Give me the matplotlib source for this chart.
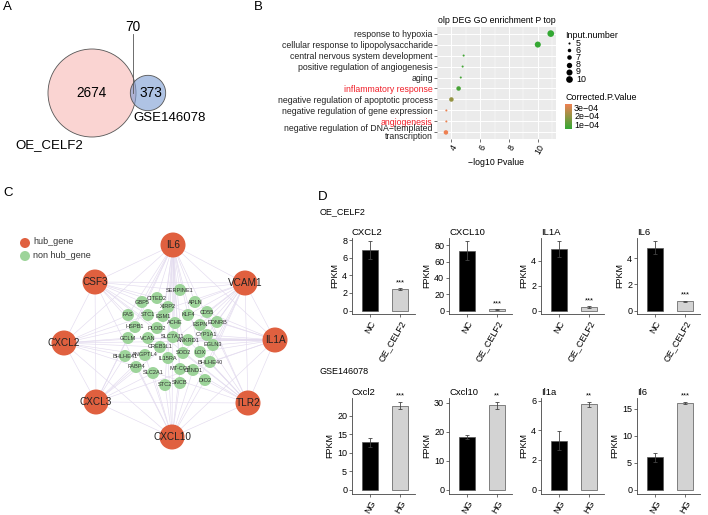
import numpy as np
import matplotlib
matplotlib.use("Agg")
import matplotlib.pyplot as plt
from matplotlib.patches import Circle
from matplotlib.colors import LinearSegmentedColormap, Normalize
from matplotlib.cm import ScalarMappable
from matplotlib.ticker import MultipleLocator

plt.rcParams['font.family'] = ['Liberation Sans', 'DejaVu Sans']
W, H = 708, 515

# ---------------- data ----------------
# A: venn
venn_names = ["OE_CELF2", "GSE146078"]
venn_only = [2674, 373]
venn_both = 70

# B: GO enrichment (top -> bottom)
go_terms = ["response to hypoxia", "cellular response to lipopolysaccharide",
            "central nervous system development", "positive regulation of angiogenesis",
            "aging", "inflammatory response", "negative regulation of apoptotic process",
            "negative regulation of gene expression", "angiogenesis",
            "negative regulation of DNA\u2212templated\ntranscription"]
go_logp = [10.9, 10.0, 4.85, 4.78, 4.65, 4.5, 4.0, 3.65, 3.65, 3.62]
go_count = [10, 9, 5, 5, 5, 7, 7, 5, 5, 7]
go_padj = [4.6e-5, 5.0e-5, 7.0e-5, 7.0e-5, 7.5e-5, 8.0e-5, 2.0e-4, 3.3e-4, 3.3e-4, 3.4e-4]
go_red = ["inflammatory response", "angiogenesis"]

# C: PPI network
hub_genes = ["IL6", "VCAM1", "IL1A", "TLR2", "CXCL10", "CXCL3", "CXCL2", "CSF3"]
hub_pos = [(173, 245), (245, 283), (275, 340), (248, 403), (172, 437), (96, 402), (64, 343), (95, 282)]
other_genes = ["SERPINE1", "CITED2", "GBP5", "APLN", "XIRP2", "CD55", "FAS", "STC1", "ESM1",
               "KLF4", "ACHE", "EDNRB", "ESPN", "HSPB1", "PLOD2", "CYP1A1", "SLC7A11", "GCLM",
               "VCAN", "ANKRD1", "EGLN3", "CREB3L1", "SOD2", "LOX", "BHLHE41", "ANGPTL4",
               "IL15RA", "BHLHE40", "FABP4", "MT-CO3", "CEND1", "SLC2A1", "DIO2", "STC2", "SNCB"]
other_pos = [(180, 290), (157, 298), (142, 302), (195, 302), (168, 307), (207, 312), (128, 315),
             (148, 315), (163, 316), (188, 315), (175, 323), (217, 322), (200, 325), (135, 327),
             (157, 328), (207, 335), (173, 337), (128, 338), (148, 338), (188, 340), (213, 345),
             (160, 347), (183, 353), (200, 352), (125, 356), (145, 355), (168, 358), (210, 362),
             (136, 367), (180, 369), (193, 370), (153, 373), (205, 380), (165, 385), (180, 383)]
hub_links = {
    "IL6": ["SERPINE1", "CITED2", "XIRP2", "ESM1", "ACHE", "SLC7A11", "CREB3L1", "IL15RA",
            "MT-CO3", "STC2", "SNCB", "SOD2", "APLN", "KLF4", "GBP5", "FAS", "HSPB1", "LOX"],
    "VCAM1": ["SERPINE1", "APLN", "CD55", "KLF4", "EDNRB", "ESPN", "CYP1A1", "EGLN3", "BHLHE40", "SOD2"],
    "IL1A": ["CD55", "EDNRB", "CYP1A1", "EGLN3", "ANKRD1", "LOX", "BHLHE40", "SLC7A11", "VCAN", "GCLM"],
    "TLR2": ["LOX", "BHLHE40", "DIO2", "CEND1", "SOD2", "ANKRD1", "KLF4", "CD55"],
    "CXCL10": ["STC2", "SNCB", "MT-CO3", "IL15RA", "SLC2A1", "DIO2", "CEND1", "FABP4", "ANGPTL4"],
    "CXCL3": ["BHLHE41", "FABP4", "SLC2A1", "ANGPTL4", "GCLM"],
    "CXCL2": ["GCLM", "VCAN", "BHLHE41", "FAS", "HSPB1", "ANGPTL4", "CREB3L1"],
    "CSF3": ["GBP5", "FAS", "CITED2", "STC1", "HSPB1", "PLOD2", "SERPINE1"],
}

# D: FPKM bar charts
top_genes = ["CXCL2", "CXCL10", "IL1A", "IL6"]
top_groups = ["NC", "OE_CELF2"]
top_mean = [[6.9, 2.45], [73.5, 1.4], [4.95, 0.3], [4.8, 0.7]]
top_err = [[1.0, 0.1], [11.5, 0.3], [0.65, 0.06], [0.5, 0.05]]
top_sig = ["***", "***", "***", "***"]
top_ystep = [2, 20, 2, 2]
bot_genes = ["Cxcl2", "Cxcl10", "Il1a", "Il6"]
bot_groups = ["NG", "HG"]
bot_mean = [[12.8, 22.8], [18.2, 29.0], [3.3, 5.75], [6.0, 16.1]]
bot_err = [[1.2, 1.0], [0.6, 1.2], [0.65, 0.17], [0.8, 0.15]]
bot_sig = ["***", "**", "**", "***"]
bot_ystep = [5, 10, 2, 5]

# ---------------- figure ----------------
fig = plt.figure(figsize=(W / 100, H / 100), dpi=100)
ov = fig.add_axes([0, 0, 1, 1])
ov.set_xlim(0, W); ov.set_ylim(H, 0); ov.axis("off")

def px_axes(x0, y0, x1, y1):
    return fig.add_axes([x0 / W, 1 - y1 / H, (x1 - x0) / W, (y1 - y0) / H])

for lab, (x, y) in zip("ABCD", [(3, 7), (254, 7), (3, 193), (318, 197)]):
    ov.text(x, y, lab, fontsize=9.5, va="center", ha="left")

# ---- A ----
k = 0.84
r1 = k * np.sqrt(venn_only[0] + venn_both)
r2 = k * np.sqrt(venn_only[1] + venn_both)
c1 = (92, 93); c2 = (c1[0] + 56, 93)
ov.add_patch(Circle(c1, r1, fc="#FAD4D2", ec="#555555", lw=0.6))
ov.add_patch(Circle(c2, r2, fc="#7B9BD2", alpha=0.6, ec="none"))
ov.add_patch(Circle(c2, r2, fc="none", ec="#555555", lw=0.6))
ov.text((c1[0] - r1 + c2[0] - r2) / 2 + 2, c1[1], str(venn_only[0]), fontsize=9.8, ha="center", va="center")
ov.text((c1[0] + r1 + c2[0] + r2) / 2, c2[1], str(venn_only[1]), fontsize=9.8, ha="center", va="center")
xo = (c2[0] - r2 + c1[0] + r1) / 2
ov.plot([xo, xo], [34, c1[1]], color="#555555", lw=0.6)
ov.text(xo, 27, str(venn_both), fontsize=9.8, ha="center", va="center")
ov.text(133, 118, venn_names[1], fontsize=9.5, ha="left", va="center")
ov.text(15, 145, venn_names[0], fontsize=9.5, ha="left", va="center")

# ---- B ----
axb = px_axes(437, 27, 556, 139)
cmap = LinearSegmentedColormap.from_list("gp", ["#33A833", "#EE8052"])
norm = Normalize(min(go_padj), max(go_padj))
def dot_size(n):
    return 2.2 + (np.asarray(n) - 5) / 5 * 21
ypos = np.arange(len(go_terms))[::-1] + 1
axb.set_facecolor("#EBEBEB")
axb.scatter(go_logp, ypos, s=dot_size(go_count), c=go_padj, cmap=cmap, norm=norm, zorder=3, lw=0)
axb.margins(x=0.05)
axb.set_ylim(0.4, len(go_terms) + 0.6)
axb.set_xticks([4, 6, 8, 10])
axb.set_xticks([3, 5, 7, 9, 11], minor=True)
axb.set_yticks(ypos)
axb.set_yticklabels(go_terms, fontsize=6.3, linespacing=0.78)
for t in axb.get_yticklabels():
    t.set_color("#F0202A" if t.get_text() in go_red else "#222222")
axb.grid(which="major", color="white", lw=0.7)
axb.grid(which="minor", axis="x", color="white", lw=0.35)
for s in axb.spines.values():
    s.set_visible(False)
axb.tick_params(axis="both", which="major", length=2, width=0.5, color="#333333", pad=1)
axb.tick_params(axis="x", which="minor", length=0)
for t in axb.get_xticklabels():
    t.set_fontsize(6.3); t.set_rotation(60); t.set_ha("right"); t.set_rotation_mode("anchor")
axb.set_xlabel("\u2212log10 Pvalue", fontsize=6.3, labelpad=1)
axb.set_title("olp DEG GO enrichment P top", fontsize=6.3, pad=3)
axb.set_axisbelow(True)

# size legend
ov.text(565, 36, "Input.number", fontsize=6.4, va="center")
for i, n in enumerate(range(5, 11)):
    yy = 43 + 7.2 * i
    ov.scatter([569], [yy], s=dot_size(n), color="black", lw=0)
    ov.text(576, yy, str(n), fontsize=6.4, va="center")
ov.text(565, 98, "Corrected.P.Value", fontsize=6.4, va="center")
cax = px_axes(565, 104, 572, 129)
cb = fig.colorbar(ScalarMappable(norm=norm, cmap=cmap), cax=cax)
cb.outline.set_visible(False)
cb.set_ticks([1e-4, 2e-4, 3e-4])
cb.set_ticklabels(["1e\u221204", "2e\u221204", "3e\u221204"])
cax.tick_params(length=0, labelsize=6.4, pad=1.5)

# ---- C ----
allpos = dict(zip(hub_genes, hub_pos))
allpos.update(dict(zip(other_genes, other_pos)))
ecol = "#E3DBEF"
for i in range(len(hub_genes)):
    for j in range(i + 1, len(hub_genes)):
        (xa, ya), (xb, yb) = hub_pos[i], hub_pos[j]
        ov.plot([xa, xb], [ya, yb], color=ecol, lw=0.45, zorder=1)
for h, gl in hub_links.items():
    for g in gl:
        (xa, ya), (xb, yb) = allpos[h], allpos[g]
        ov.plot([xa, xb], [ya, yb], color=ecol, lw=0.45, zorder=1)
for g, (x, y) in zip(other_genes, other_pos):
    ov.add_patch(Circle((x, y), 6, fc="#9DD49A", ec="none", zorder=2))
    ov.text(x, y, g, fontsize=4.1, ha="center", va="center", color="#333333", zorder=3)
for g, (x, y) in zip(hub_genes, hub_pos):
    ov.add_patch(Circle((x, y), 12.5, fc="#E0603F", ec="none", zorder=2))
    ov.text(x, y, g, fontsize=7.2, ha="center", va="center", color="#222222", zorder=3)
ov.add_patch(Circle((25, 243), 5, fc="#E0603F", ec="none"))
ov.add_patch(Circle((25, 256), 5, fc="#9DD49A", ec="none"))
ov.text(33, 242, "hub_gene", fontsize=6.5, va="center", color="#333333")
ov.text(33, 256, "non hub_gene", fontsize=6.5, va="center", color="#333333")

# ---- D ----
ov.text(320, 212, "OE_CELF2", fontsize=6.5, va="center")
ov.text(320, 372, "GSE146078", fontsize=6.5, va="center")
lefts = [352, 449, 541, 637]

def bar_panel(x0, y0, y1, gene, groups, mean, err, sig, ystep):
    ax = px_axes(x0, y0, x0 + 63, y1)
    xs = np.arange(1, len(groups) + 1)
    ax.bar(xs, mean, width=0.55, color=["black", "#D3D3D3"], edgecolor="#555555", lw=0.5)
    ax.errorbar(xs, mean, yerr=err, fmt="none", ecolor="#444444", elinewidth=0.6, capsize=1.5, capthick=0.6)
    M = max(m + e for m, e in zip(mean, err))
    ax.text(xs[1], mean[1] + err[1] + 0.03 * M, sig, fontsize=5.5, ha="center", va="bottom")
    ax.set_ylim(-0.05 * M, 1.045 * M)
    ax.set_xlim(0.4, 2.5)
    ax.yaxis.set_major_locator(MultipleLocator(ystep))
    ax.set_xticks(xs)
    ax.set_xticklabels(groups, rotation=60, ha="right", rotation_mode="anchor", fontsize=6.5)
    ax.tick_params(axis="y", labelsize=6.5)
    ax.tick_params(length=2, width=0.5, color="#333333", pad=1.5)
    for s in ("top", "right"):
        ax.spines[s].set_visible(False)
    for s in ("left", "bottom"):
        ax.spines[s].set_linewidth(0.6); ax.spines[s].set_color("#444444")
    ax.set_ylabel("FPKM", fontsize=6.5, labelpad=2)
    ax.set_title(gene, loc="left", fontsize=6.8, pad=2)
    return ax

for i in range(4):
    bar_panel(lefts[i], 238, 314, top_genes[i], top_groups, top_mean[i], top_err[i], top_sig[i], top_ystep[i])
    bar_panel(lefts[i], 398, 494, bot_genes[i], bot_groups, bot_mean[i], bot_err[i], bot_sig[i], bot_ystep[i])

fig.savefig("out.png", dpi=100)
